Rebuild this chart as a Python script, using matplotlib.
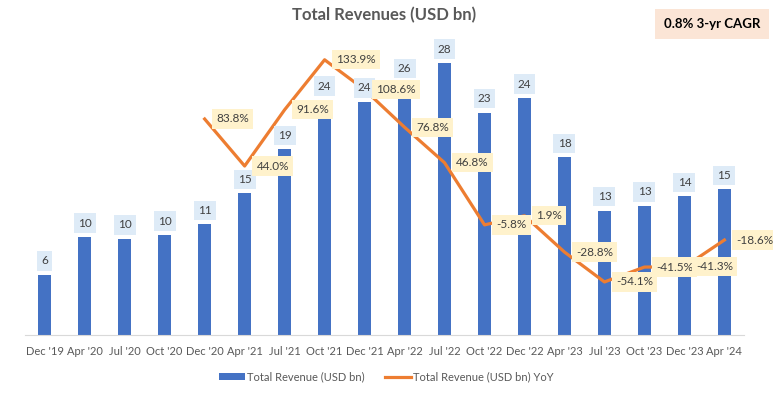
import numpy as np
import matplotlib.pyplot as plt

# data
quarters = ["Dec '19", "Apr '20", "Jul '20", "Oct '20", "Dec '20", "Apr '21",
            "Jul '21", "Oct '21", "Dec '21", "Apr '22", "Jul '22", "Oct '22",
            "Dec '22", "Apr '23", "Jul '23", "Oct '23", "Dec '23", "Apr '24"]
revenue = [6.2, 10.1, 9.9, 10.3, 11.4, 14.6, 19.1, 24.2, 24.0, 26.0, 28.0,
           22.9, 24.4, 18.3, 12.8, 13.3, 14.3, 15.0]
yoy_start = 4  # first quarter with a YoY value (Dec '20)
yoy = [83.8, 44.0, 91.6, 133.9, 108.6, 76.8, 46.8, -5.8, 1.9, -28.8,
       -54.1, -41.5, -41.3, -18.6]
cagr_text = "0.8% 3-yr CAGR"

plt.rcParams['font.family'] = ['Lato', 'DejaVu Sans']

fig = plt.figure(figsize=(7.73, 3.96), dpi=100)
ax = fig.add_axes([0.032, 0.154, 0.931, 0.758])
ax2 = ax.twinx()

x = np.arange(len(quarters))
bars = ax.bar(x, revenue, width=0.33, color='#4472C4', label='Total Revenue (USD bn)')
ax.set_xlim(-0.5, len(quarters) - 0.5)
ax.set_ylim(0, 30.9)

xl = x[yoy_start:]
line, = ax2.plot(xl, yoy, color='#ED7D31', lw=2.3, zorder=2,
                 label='Total Revenue (USD bn) YoY')
ax2.set_ylim(-99, 155)

# bar labels go on ax2 (above the line) but use the bar axis coordinates
for xi, v in zip(x, revenue):
    ax2.annotate(f"{v:.0f}", (xi, v), xycoords=ax.transData, xytext=(0, 10),
                 textcoords='offset points', ha='center', va='center',
                 fontsize=8.5, color='#404040', zorder=3,
                 bbox=dict(boxstyle='square,pad=0.35', fc='#DEEBF7', ec='none'))

for xi, v in zip(xl, yoy):
    ax2.annotate(f"{v:.1f}%", (xi, v), xytext=(8.5, 0), textcoords='offset points',
                 ha='left', va='center', fontsize=8.5, color='#404040', zorder=4,
                 bbox=dict(boxstyle='square,pad=0.35', fc='#FFF2CC', ec='none'))

ax.set_xticks(x)
ax.set_xticklabels(quarters, fontsize=8, color='#595959')
ax.tick_params(axis='x', length=0, pad=8)
ax.set_yticks([])
ax2.set_yticks([])
for a in (ax, ax2):
    for s in ['top', 'right', 'left', 'bottom']:
        a.spines[s].set_visible(False)
ax.spines['bottom'].set_visible(True)
ax.spines['bottom'].set_color('#D9D9D9')

fig.text(0.497, 0.963, "Total Revenues (USD bn)", ha='center', va='center',
         fontsize=12, fontweight='bold', color='#595959')
fig.text(0.921, 0.94, cagr_text, ha='center', va='center', fontsize=9.5,
         fontweight='bold', color='#000000',
         bbox=dict(boxstyle='square,pad=0.7', fc='#FBE5D6', ec='none'))

fig.legend([bars, line], [bars.get_label(), line.get_label()], loc='center',
           bbox_to_anchor=(0.5, 0.048), ncol=2, frameon=False, fontsize=8,
           labelcolor='#595959', handlelength=2.3, handletextpad=0.25,
           columnspacing=1.8)

fig.savefig('out.png', dpi=100)
